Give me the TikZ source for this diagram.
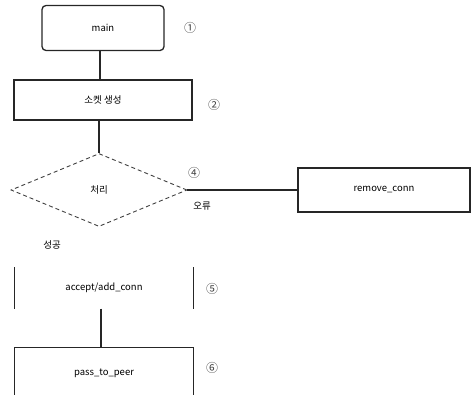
\documentclass[tikz,border=0pt]{standalone}
\usepackage{fontspec}
\setmainfont{Noto Sans CJK KR}
\usetikzlibrary{shapes.geometric, positioning}

\tikzset{
  flowline/.style={draw=black!85, line width=1.3pt},
  procbox/.style={draw=black!85, line width=1.3pt, minimum width=178pt, minimum height=40pt,
    inner sep=0pt, font=\fontsize{9.5}{11}\selectfont},
  openbox/.style={procbox, draw=none},
  startbox/.style={procbox, rounded corners=4pt, minimum width=122pt, minimum height=45pt},
  decision/.style={diamond, draw=black!75, dashed, dash pattern=on 4pt off 3pt, line width=0.9pt,
    minimum width=176pt, minimum height=73pt, inner sep=0pt, font=\fontsize{9.5}{11}\selectfont},
  steplabel/.style={font=\fontsize{12}{14}\selectfont, text=black!75, inner sep=0pt},
  branchlabel/.style={font=\fontsize{9.5}{11}\selectfont, inner sep=0pt}
}

\begin{document}
\begin{tikzpicture}[x=1pt, y=-1pt]
  \useasboundingbox (0,0) rectangle (473,394);

  % main flow
  \node[startbox] (main) at (103,28) {main};
  \node[procbox] (sock) at (103,100) {소켓 생성};
  \node[decision] (cond) at (99,190) {처리};
  \node[procbox, minimum width=172pt, minimum height=44pt] (remove) at (384,190) {remove\_conn};
  \node[openbox] (accept) at (104,288) {accept/add\_conn};
  \node[openbox, minimum height=50pt] (pass) at (104,373) {pass\_to\_peer};

  % open sides
  \draw[flowline] (accept.north west) -- (accept.south west);
  \draw[flowline] (accept.north east) -- (accept.south east);
  \draw[flowline] (pass.south west) -- (pass.north west) -- (pass.north east) -- (pass.south east);

  % connectors
  \draw[flowline] (main.south -| 100,0) -- (sock.north -| 100,0);
  \draw[flowline] (sock.south -| cond.north) -- (cond.north);
  \draw[flowline] (cond.east) -- (remove.west);
  \draw[flowline] (accept.south -| 101,0) -- (pass.north -| 101,0);

  % labels
  \node[steplabel] (n1) at (190,28) {①};
  \node[steplabel] (n2) at (214,105) {②};
  \node[steplabel] (n4) at (194,173) {④};
  \node[steplabel] (n5) at (212,289) {⑤};
  \node[steplabel] (n6) at (212,368) {⑥};
  \node[branchlabel] (err) at (202,206) {오류};
  \node[branchlabel] (ok) at (52,245) {성공};
\end{tikzpicture}
\end{document}
